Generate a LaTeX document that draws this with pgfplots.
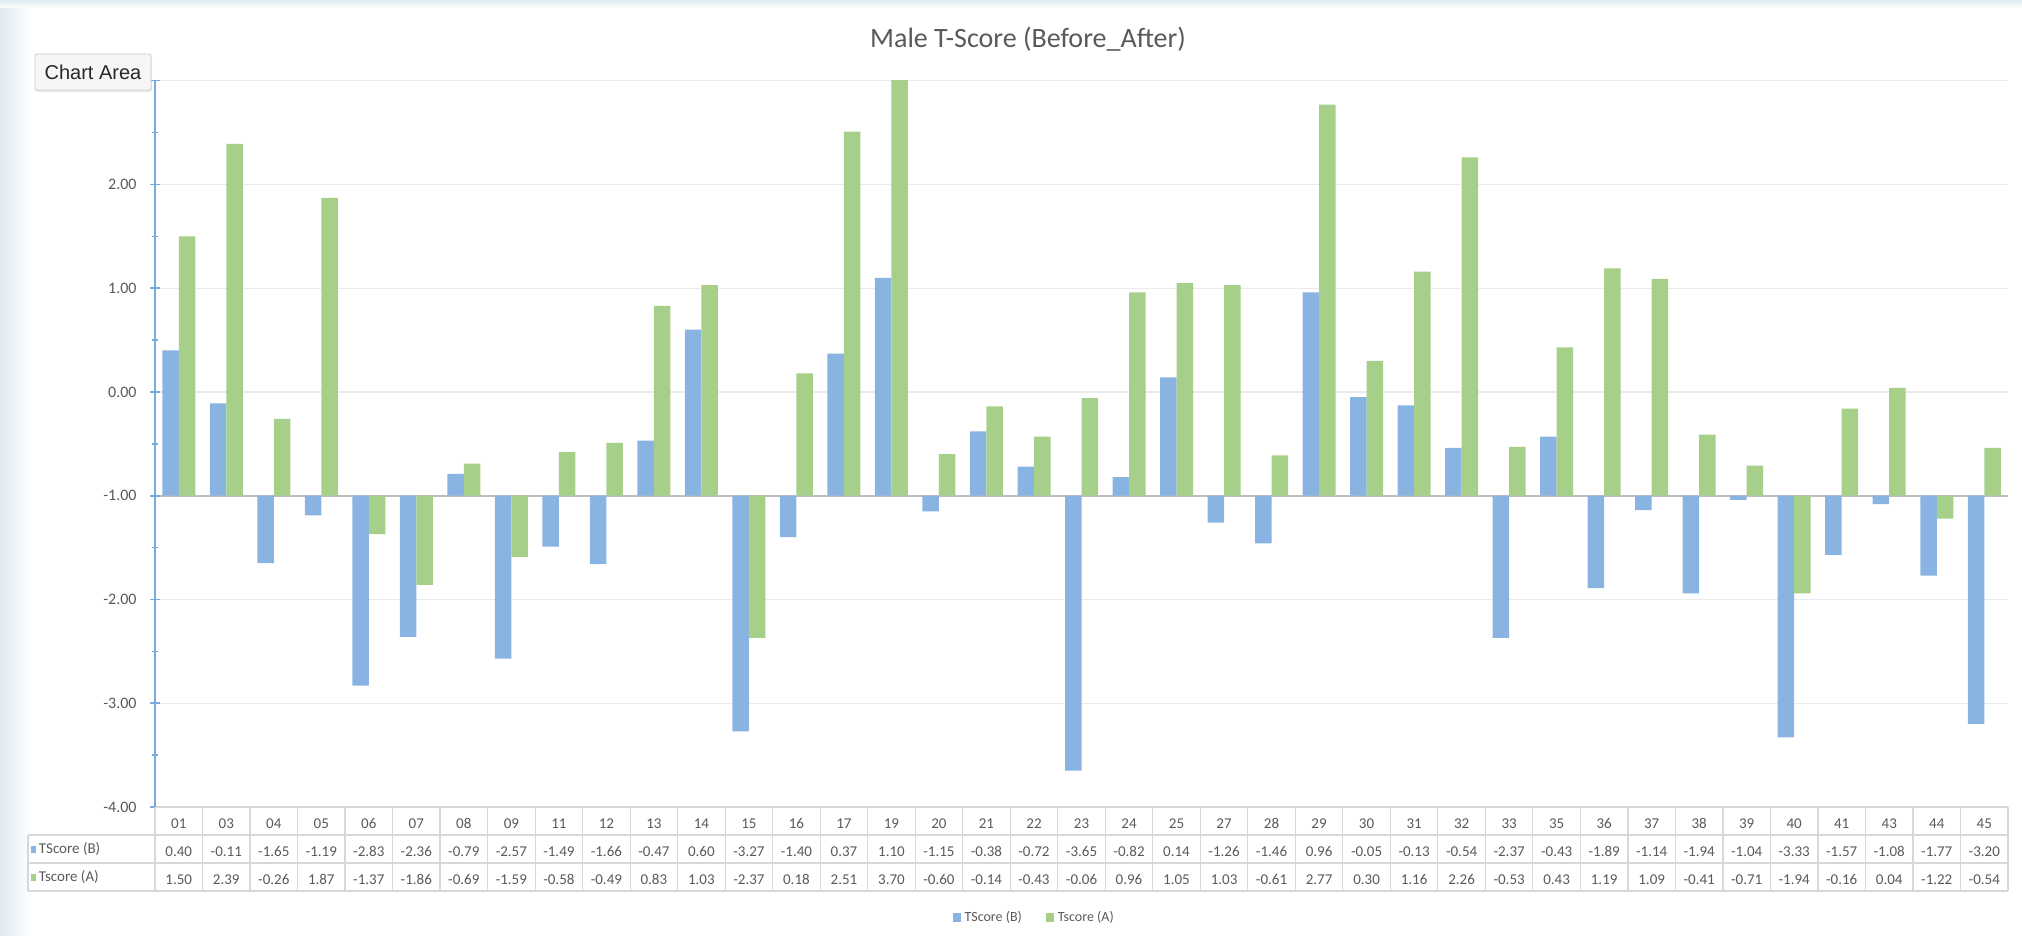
\documentclass[border=0pt]{standalone}
\usepackage{fontspec}
\setmainfont{Carlito}
\newfontfamily\tipfont{Liberation Sans}
\usepackage{pgfplots}
\usepackage{pgfplotstable}
\pgfplotsset{compat=1.18}
\usetikzlibrary{shadows}
\definecolor{bblue}{RGB}{137,180,226}
\definecolor{bgreen}{RGB}{166,208,138}
\definecolor{axblue}{RGB}{120,170,225}
\definecolor{txtgray}{RGB}{89,89,89}
\definecolor{gridgray}{RGB}{234,234,234}
\definecolor{tabgray}{RGB}{215,215,215}
\definecolor{zerogray}{RGB}{190,190,190}
\definecolor{bgl}{RGB}{224,234,241}

\pgfplotstableread{
idx cat B A
0 01 0.40 1.50
1 03 -0.11 2.39
2 04 -1.65 -0.26
3 05 -1.19 1.87
4 06 -2.83 -1.37
5 07 -2.36 -1.86
6 08 -0.79 -0.69
7 09 -2.57 -1.59
8 11 -1.49 -0.58
9 12 -1.66 -0.49
10 13 -0.47 0.83
11 14 0.60 1.03
12 15 -3.27 -2.37
13 16 -1.40 0.18
14 17 0.37 2.51
15 19 1.10 3.70
16 20 -1.15 -0.60
17 21 -0.38 -0.14
18 22 -0.72 -0.43
19 23 -3.65 -0.06
20 24 -0.82 0.96
21 25 0.14 1.05
22 27 -1.26 1.03
23 28 -1.46 -0.61
24 29 0.96 2.77
25 30 -0.05 0.30
26 31 -0.13 1.16
27 32 -0.54 2.26
28 33 -2.37 -0.53
29 35 -0.43 0.43
30 36 -1.89 1.19
31 37 -1.14 1.09
32 38 -1.94 -0.41
33 39 -1.04 -0.71
34 40 -3.33 -1.94
35 41 -1.57 -0.16
36 43 -1.08 0.04
37 44 -1.77 -1.22
38 45 -3.20 -0.54
}\datatable

\begin{document}
\begin{tikzpicture}
\path (0pt,0pt) rectangle (1011pt,468pt);
% background
\shade[left color=bgl, right color=white] (0pt,0pt) rectangle (16pt,468pt);
\shade[top color=bgl, bottom color=white] (0pt,464pt) rectangle (1011pt,468pt);

\begin{axis}[
  at={(77.5pt,64.5pt)}, anchor=south west,
  scale only axis, width=926.5pt, height=363.15pt,
  ybar=0pt, bar width=8.25pt,
  xmin=-0.5, xmax=38.5,
  ymin=-4, ymax=3,
  y coord trafo/.code={\pgfmathparse{#1+1}},
  y coord inv trafo/.code={\pgfmathparse{#1-1}},
  ytick={-4,-3,-2,-1,0,1,2,3},
  yticklabels={-4.00,-3.00,-2.00,-1.00,0.00,1.00,2.00,{}},
  minor y tick num=1,
  ymajorgrids,
  grid style={gridgray, line width=0.6pt},
  extra y ticks={-1}, extra y tick labels={},
  extra y tick style={grid style={zerogray, line width=0.8pt}},
  axis x line*=bottom, axis y line*=left,
  x axis line style={tabgray, line width=0.6pt},
  y axis line style={axblue, line width=1pt},
  ytick style={axblue, line width=0.8pt},
  tick align=center, major tick length=5pt, minor tick length=3pt,
  xtick={0,...,38},
  xtick style={draw=none},
  yticklabel style={font=\fontsize{8}{9}\selectfont, text=txtgray, anchor=east, inner sep=0pt, xshift=-6.5pt},
  xticklabel={\pgfplotstablegetelem{\ticknum}{cat}\of\datatable\let\tc\pgfplotsretval
    \pgfplotstablegetelem{\ticknum}{B}\of\datatable\let\tb\pgfplotsretval
    \pgfplotstablegetelem{\ticknum}{A}\of\datatable\let\ta\pgfplotsretval
    \makebox[0pt]{\tc}\makebox[0pt]{\raisebox{-14pt}{\tb}}\makebox[0pt]{\raisebox{-28pt}{\ta}}},
  xticklabel style={anchor=base, inner sep=0pt, yshift=-8.5pt, font=\fontsize{7.5}{8}\selectfont, text=txtgray},
  legend style={at={(0.475,-0.153)}, anchor=center, draw=none, fill=none,
    font=\fontsize{7}{8}\selectfont, text=txtgray, legend columns=2, inner sep=0pt,
    /tikz/every even column/.append style={column sep=10pt}},
]
\addplot[fill=bblue, draw=none, legend image code/.code={\fill[bblue] (0pt,-2pt) rectangle (4pt,2.5pt);}] table[x=idx, y=B] {\datatable};
\addplot[fill=bgreen, draw=none, legend image code/.code={\fill[bgreen] (0pt,-2pt) rectangle (4pt,2.5pt);}] table[x=idx, y=A] {\datatable};
\legend{TScore (B), Tscore (A)}
\end{axis}

% data table grid
\foreach \k in {0,...,39} {
  \draw[tabgray, line width=0.6pt] ({77.5pt+\k*23.7564pt},64.5pt) -- ({77.5pt+\k*23.7564pt},22.5pt);
}
\draw[tabgray, line width=0.6pt] (14pt,50.5pt) -- (1004pt,50.5pt);
\draw[tabgray, line width=0.6pt] (14pt,36.5pt) -- (1004pt,36.5pt);
\draw[tabgray, line width=0.6pt] (14pt,22.5pt) -- (1004pt,22.5pt);
\draw[tabgray, line width=0.6pt] (14pt,50.5pt) -- (14pt,22.5pt);
\node[anchor=west, font=\fontsize{7.5}{8}\selectfont, text=txtgray, inner sep=0pt] at (15.5pt,43.5pt) {\textcolor{bblue}{\rule{2.5pt}{3.5pt}}\,TScore (B)};
\node[anchor=west, font=\fontsize{7.5}{8}\selectfont, text=txtgray, inner sep=0pt] at (15.5pt,29.5pt) {\textcolor{bgreen}{\rule{2.5pt}{3.5pt}}\,Tscore (A)};

% title
\node[font=\fontsize{14}{16}\selectfont, text=txtgray] at (514pt,448.5pt) {Male T-Score (Before\_After)};

% tooltip
\node[draw={rgb,255:red,205;green,205;blue,205}, fill={rgb,255:red,246;green,246;blue,246},
  drop shadow={opacity=0.18, shadow xshift=0.5pt, shadow yshift=-1pt},
  minimum width=58pt, minimum height=18pt, inner sep=0pt, rounded corners=1pt,
  font=\tipfont\fontsize{10}{12}\selectfont, text={rgb,255:red,40;green,40;blue,40}]
  at (46.5pt,432pt) {Chart Area};
\end{tikzpicture}
\end{document}
